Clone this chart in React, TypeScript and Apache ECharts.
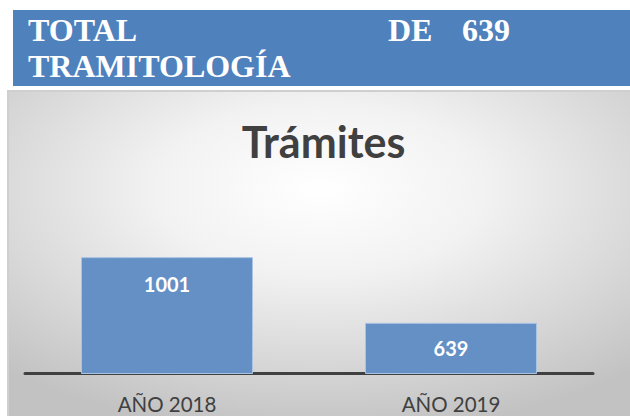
import React, { useEffect, useRef } from "react";
import * as echarts from "echarts";

const categories = ["AÑO 2018", "AÑO 2019"];
const tramites = [1001, 639];
const chartTitle = "Trámites";
const headerLine1Left = "TOTAL";
const headerLine1Mid = "DE";
const headerLine1Right = "639";
const headerLine2 = "TRAMITOLOGÍA";

export default function App() {
  const ref = useRef<HTMLDivElement>(null);
  useEffect(() => {
    if (!ref.current) return;
    const chart = echarts.init(ref.current, null, { renderer: "svg" });
    const headerFont = "bold 32px 'Liberation Serif', 'Times New Roman', serif";
    chart.setOption({
      animation: false,
      graphic: [
        {
          type: "rect",
          z: -10,
          silent: true,
          shape: { x: 13, y: 10, width: 617, height: 76 },
          style: { fill: "#4F81BD" },
        },
        {
          type: "text",
          z: -5,
          style: { text: headerLine1Left, x: 28, y: 30, font: headerFont, fill: "#ffffff", textVerticalAlign: "middle" },
        },
        {
          type: "text",
          z: -5,
          style: { text: headerLine1Mid, x: 388, y: 30, font: headerFont, fill: "#ffffff", textVerticalAlign: "middle" },
        },
        {
          type: "text",
          z: -5,
          style: { text: headerLine1Right, x: 462, y: 30, font: headerFont, fill: "#ffffff", textVerticalAlign: "middle" },
        },
        {
          type: "text",
          z: -5,
          style: { text: headerLine2, x: 28, y: 65.5, font: headerFont, fill: "#ffffff", textVerticalAlign: "middle" },
        },
        {
          type: "rect",
          z: -10,
          silent: true,
          shape: { x: 8, y: 91, width: 624, height: 327 },
          style: {
            fill: {
              type: "radial",
              x: 0.5,
              y: 0.3,
              r: 0.75,
              colorStops: [
                { offset: 0, color: "#ffffff" },
                { offset: 0.35, color: "#f2f2f2" },
                { offset: 1, color: "#c2c2c2" },
              ],
            },
            stroke: "#cfcfcf",
            lineWidth: 2,
          },
        },
        {
          type: "text",
          z: -5,
          style: {
            text: chartTitle,
            x: 323.5,
            y: 141.7,
            font: "bold 43px Lato, 'Open Sans', sans-serif",
            fill: "#404040",
            textAlign: "center",
            textVerticalAlign: "middle",
          },
        },
      ],
      grid: { left: 25, right: 37, top: 221, bottom: 42.5 },
      xAxis: {
        type: "category",
        data: categories,
        axisLine: { lineStyle: { color: "#404040", width: 3 } },
        axisTick: { show: false },
        axisLabel: {
          margin: 20,
          color: "#404040",
          fontFamily: "Lato, 'Open Sans', sans-serif",
          fontSize: 20.5,
        },
      },
      yAxis: {
        type: "value",
        min: 360,
        max: 1200,
        show: false,
        splitLine: { show: false },
      },
      series: [
        {
          type: "bar",
          barWidth: 172,
          data: tramites.map((v, i) => ({
            value: v,
            label:
              i === 0
                ? { position: "insideTop", distance: 17 }
                : { position: "inside" },
          })),
          itemStyle: { color: "#6490C5", borderColor: "#A9C3E3", borderWidth: 1 },
          label: {
            show: true,
            color: "#ffffff",
            fontFamily: "Lato, 'Open Sans', sans-serif",
            fontWeight: "bold",
            fontSize: 20,
          },
        },
      ],
    });
    return () => chart.dispose();
  }, []);
  return (
    <div
      ref={ref}
      style={{ position: "fixed", left: 0, top: 0, width: 630, height: 416, background: "#ffffff" }}
    />
  );
}
